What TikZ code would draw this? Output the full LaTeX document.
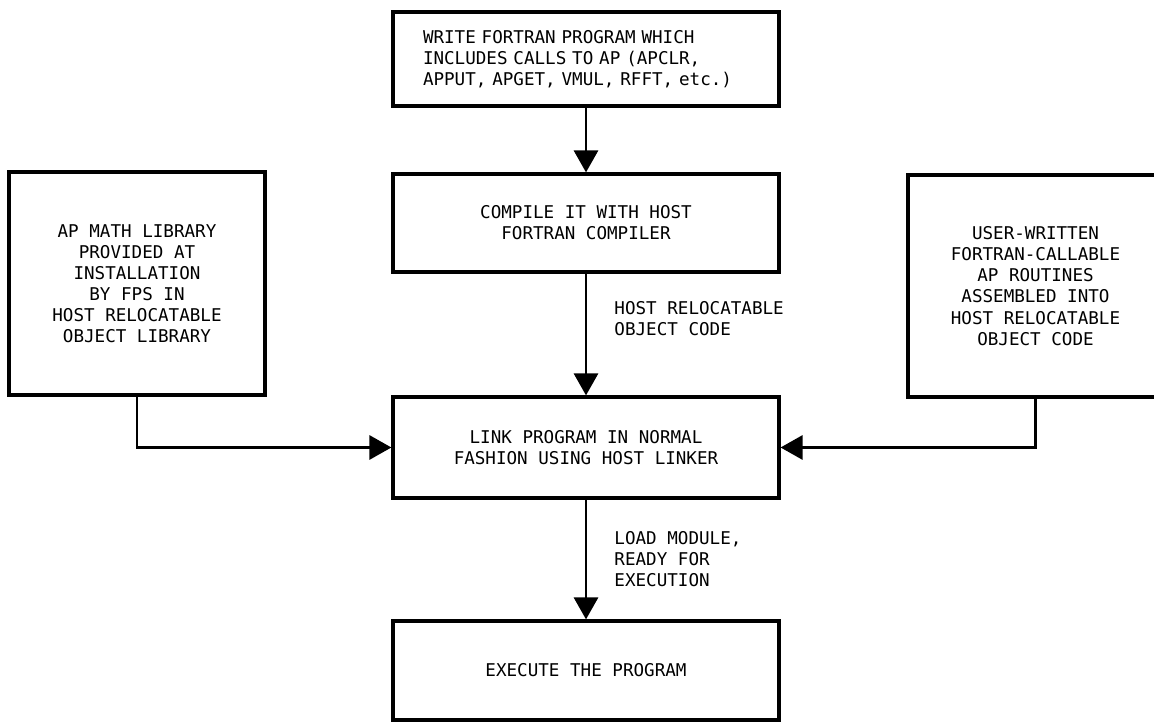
\documentclass[tikz,border=0pt]{standalone}
\usepackage{fontspec}
\setmonofont{DejaVu Sans Mono}
\usetikzlibrary{arrows.meta,positioning}

\tikzset{
	stepbox/.style={draw, line width=1.8pt, inner sep=0pt, align=center,
		font=\ttfamily\fontsize{10}{12}\selectfont},
	flow/.style={line width=1.7pt, -{Triangle[length=0.44cm,width=0.48cm]}},
	flowlabel/.style={inner sep=0pt, align=left,
		font=\ttfamily\fontsize{10}{12}\selectfont}
}

\begin{document}
\begin{tikzpicture}
	\useasboundingbox (0,0) rectangle (23.08,14.44);

	\node[stepbox, minimum width=7.72cm, minimum height=1.88cm, text width=6.52cm, align=left]
		(write) at (11.72,13.26) {WRITE FORTRAN PROGRAM WHICH\\INCLUDES CALLS TO AP (APCLR,\\APPUT, APGET, VMUL, RFFT, etc.)};

	\node[stepbox, minimum width=7.72cm, minimum height=1.96cm]
		(compile) at (11.72,9.98) {COMPILE IT WITH HOST\\FORTRAN COMPILER};

	\node[stepbox, minimum width=7.72cm, minimum height=2.02cm]
		(link) at (11.72,5.49) {LINK PROGRAM IN NORMAL\\FASHION USING HOST LINKER};

	\node[stepbox, minimum width=7.72cm, minimum height=1.98cm]
		(execute) at (11.72,1.03) {EXECUTE THE PROGRAM};

	\node[stepbox, minimum width=5.12cm, minimum height=4.46cm]
		(mathlib) at (2.74,8.77) {AP MATH LIBRARY\\PROVIDED AT\\INSTALLATION\\BY FPS IN\\HOST RELOCATABLE\\OBJECT LIBRARY};

	\node[stepbox, minimum width=5.1cm, minimum height=4.44cm]
		(userlib) at (20.71,8.72) {USER-WRITTEN\\FORTRAN-CALLABLE\\AP ROUTINES\\ASSEMBLED INTO\\HOST RELOCATABLE\\OBJECT CODE};

	\draw [flow] (write) -- (compile);

	\draw [flow] (compile) -- node[flowlabel, pos=0.37, right=0.54cm] {HOST RELOCATABLE\\OBJECT CODE} (link);

	\draw [flow] (link) -- node[flowlabel, pos=0.5, right=0.54cm] {LOAD MODULE,\\READY FOR\\EXECUTION} (execute);

	\draw [flow] (mathlib.south) |- (link.west);

	\draw [flow] (userlib.south) |- (link.east);
\end{tikzpicture}
\end{document}
